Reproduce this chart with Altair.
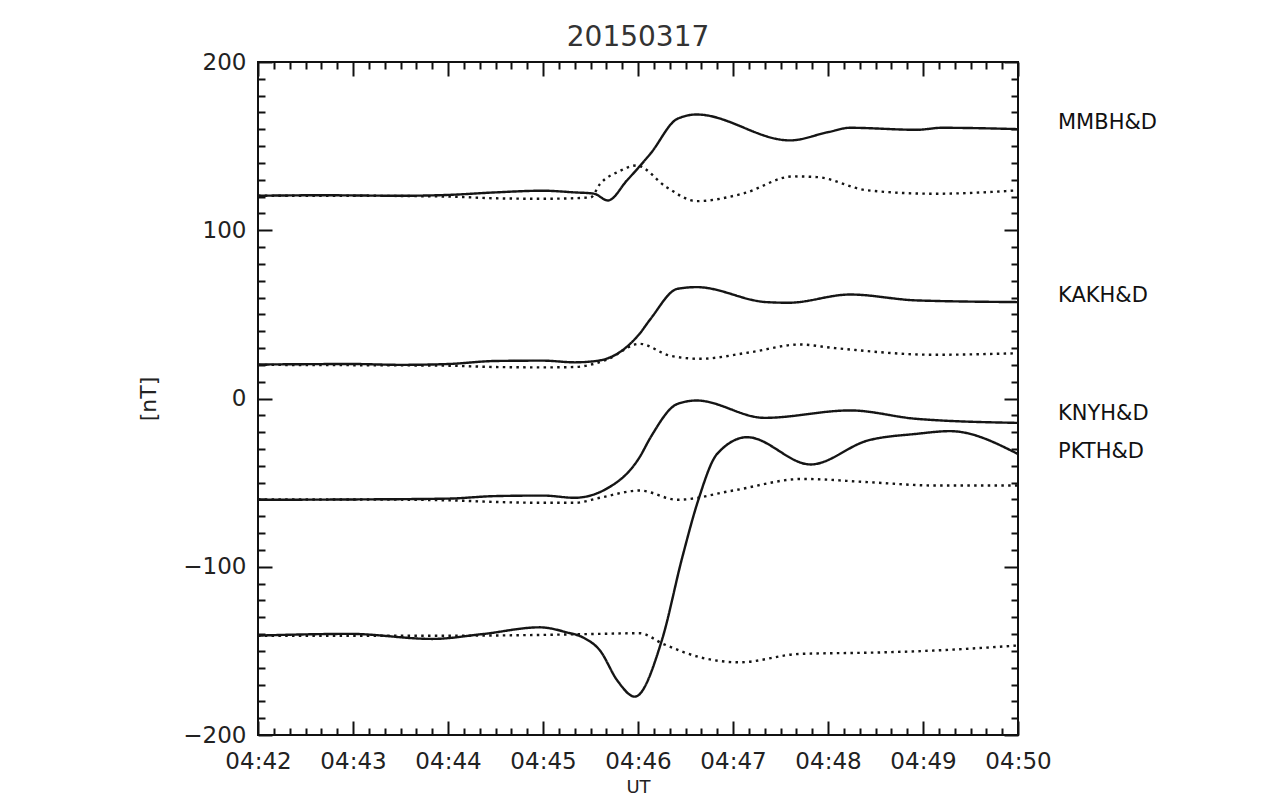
import altair as alt
import pandas as pd

TITLE = "20150317"
STATIONS = ["MMBH", "KAKH", "KNYH", "PKTH"]
LABELS = ["MMBH&D", "KAKH&D", "KNYH&D", "PKTH&D"]
LABEL_Y = [164.0, 61.0, -9.0, -32.0]

MMBH_H_t = ["04:42:00", "04:42:40", "04:43:30", "04:44:00", "04:44:30", "04:45:00", "04:45:20", "04:45:32",
            "04:45:41", "04:45:53", "04:46:08", "04:46:25", "04:46:37", "04:47:36", "04:48:00",
            "04:48:14", "04:48:56", "04:49:12", "04:50:00"]
MMBH_H_v = [120.5, 120.8, 120.5, 121.0, 122.5, 123.5, 122.5, 121.8, 117.7, 129.6, 145.7, 166.3, 168.8,
            153.4, 158.3, 160.9, 159.7, 160.9, 160.1]
MMBH_D_t = ["04:42:00", "04:43:00", "04:44:00", "04:44:30", "04:45:00", "04:45:30", "04:45:36", "04:45:48",
            "04:45:59", "04:46:18", "04:46:37", "04:47:06", "04:47:38", "04:47:53", "04:48:25", "04:49:07",
            "04:50:00"]
MMBH_D_v = [120.5, 120.5, 120.0, 119.0, 118.7, 119.5, 127.5, 135.0, 138.5, 125.6, 117.3, 121.7, 132.0, 131.6,
            123.7, 121.7, 123.7]

KAKH_H_t = ["04:42:00", "04:43:00", "04:43:30", "04:44:00", "04:44:30", "04:45:00", "04:45:20", "04:45:35",
            "04:45:40", "04:46:01", "04:46:08", "04:46:25", "04:46:37", "04:47:21", "04:47:35", "04:48:14",
            "04:48:56", "04:50:00"]
KAKH_H_v = [20.2, 20.5, 20.0, 20.5, 22.3, 22.5, 21.5, 22.5, 23.6, 38.5, 47.4, 65.2, 66.2, 57.3, 56.9, 61.8,
            58.3, 57.3]
KAKH_D_t = ["04:42:00", "04:43:00", "04:44:00", "04:44:30", "04:45:00", "04:45:20", "04:45:40", "04:46:01",
            "04:46:20", "04:46:39", "04:47:11", "04:47:42", "04:48:03", "04:49:07", "04:50:00"]
KAKH_D_v = [20.0, 19.8, 19.5, 18.7, 18.5, 18.7, 23.0, 32.5, 25.5, 23.6, 27.5, 32.1, 30.1, 26.0, 26.9]

KNYH_H_t = ["04:42:00", "04:43:00", "04:44:00", "04:44:30", "04:45:00", "04:45:20", "04:45:40", "04:46:01",
            "04:46:08", "04:46:25", "04:46:37", "04:47:20", "04:48:14", "04:48:56", "04:50:00"]
KNYH_H_v = [-60.2, -60.0, -59.5, -58.0, -57.7, -59.0, -53.7, -34.9, -23.0, -3.2, -1.2, -11.5, -7.1, -12.1,
            -14.5]
KNYH_D_t = ["04:42:00", "04:43:00", "04:44:00", "04:44:30", "04:45:00", "04:45:20", "04:45:36", "04:46:01",
            "04:46:25", "04:47:00", "04:47:44", "04:48:25", "04:49:07", "04:50:00"]
KNYH_D_v = [-60.0, -60.0, -60.5, -61.5, -62.0, -62.0, -59.0, -54.7, -60.2, -54.7, -47.8, -49.7, -51.7, -51.7]

PKTH_H_t = ["04:42:00", "04:42:58", "04:43:50", "04:44:22", "04:44:58", "04:45:15", "04:45:25", "04:45:36",
            "04:45:47", "04:45:58", "04:46:15", "04:46:28", "04:46:38", "04:46:50", "04:47:09",
            "04:47:49", "04:48:25", "04:48:56", "04:49:17", "04:50:00"]
PKTH_H_v = [-140.9, -139.9, -142.9, -140.0, -136.0, -139.0, -141.9, -149.8, -167.7, -177.2, -143.9, -94.3,
            -60.6, -32.9, -23.0, -39.2, -25.0, -21.0, -19.4, -33.0]
PKTH_D_t = ["04:42:00", "04:43:00", "04:44:00", "04:45:00", "04:45:30", "04:46:01", "04:46:16", "04:46:40",
            "04:47:04", "04:47:42", "04:48:30", "04:49:07", "04:50:00"]
PKTH_D_v = [-141.0, -141.0, -141.0, -140.5, -140.0, -139.5, -145.9, -154.0, -156.8, -151.8, -151.0, -149.8,
            -146.8]

SERIES = {
    "MMBH": (MMBH_H_t, MMBH_H_v, MMBH_D_t, MMBH_D_v),
    "KAKH": (KAKH_H_t, KAKH_H_v, KAKH_D_t, KAKH_D_v),
    "KNYH": (KNYH_H_t, KNYH_H_v, KNYH_D_t, KNYH_D_v),
    "PKTH": (PKTH_H_t, PKTH_H_v, PKTH_D_t, PKTH_D_v),
}


def to_min(s):
    h, m, sec = map(int, s.split(":"))
    return h * 60 + m + sec / 60.0 - (4 * 60 + 42)


rows = []
for st, (ht, hv, dt, dv) in SERIES.items():
    for t, v in zip(ht, hv):
        rows.append({"station": st, "kind": "H", "t": to_min(t), "v": v})
    for t, v in zip(dt, dv):
        rows.append({"station": st, "kind": "D", "t": to_min(t), "v": v})
df = pd.DataFrame(rows)

t_end = to_min(MMBH_H_t[-1])
lab_df = pd.DataFrame({"label": LABELS, "t": [t_end] * 4, "v": LABEL_Y})

W, H = 760, 673
FONT = "DejaVu Sans"
x_scale = alt.Scale(domain=[0, 8], nice=False, zero=False)
y_scale = alt.Scale(domain=[-200, 200], nice=False, zero=False)
dash_scale = alt.Scale(domain=["H", "D"], range=[[1, 0], [2.5, 4.3]])

major_x = list(range(0, 9))
minor_x = [k / 6 for k in range(49) if k % 6]
major_y = [-200, -100, 0, 100, 200]
minor_y = [v for v in range(-200, 201, 10) if v % 100]


def tick_axis(orient, offset, values, size):
    return alt.Axis(orient=orient, offset=offset, values=values, tickSize=size, tickWidth=2,
                    tickColor="#111", ticks=True, labels=False, domain=False, grid=False, title=None)


x_label_axis = alt.Axis(orient="bottom", values=major_x, ticks=False, tickSize=0, domain=False, grid=False,
                        labelExpr="'04:' + format(42 + datum.value, '02d')", labelPadding=15,
                        labelFontSize=23, labelFont=FONT, labelColor="#222", labelFlush=False,
                        labelOverlap=False, title="UT", titleFont=FONT, titleFontSize=18,
                        titleFontWeight="normal", titleColor="#222", titleX=W / 2, titleY=52,
                        titleAlign="center", titleBaseline="middle")
y_label_axis = alt.Axis(orient="left", values=major_y, ticks=False, tickSize=0, domain=False, grid=False,
                        labelPadding=12, labelFontSize=23, labelFont=FONT, labelColor="#222",
                        labelFlush=False, labelOverlap=False, title="[nT]", titleFont=FONT,
                        titleFontSize=22, titleFontWeight="normal", titleColor="#222", titleX=-110,
                        titleY=H / 2, titleAngle=270, titleAlign="center", titleBaseline="middle")

x_axes = [
    x_label_axis,
    tick_axis("top", -H, major_x, 14),      # bottom edge, inward
    tick_axis("bottom", -H, major_x, 14),   # top edge, inward
    tick_axis("top", -H, minor_x, 7),
    tick_axis("bottom", -H, minor_x, 7),
]
y_axes = [
    y_label_axis,
    tick_axis("right", -W, major_y, 14),    # left edge, inward
    tick_axis("left", -W, major_y, 14),     # right edge, inward
    tick_axis("right", -W, minor_y, 7),
    tick_axis("left", -W, minor_y, 7),
]

layers = []
for i, st in enumerate(STATIONS):
    layers.append(
        alt.Chart(df[df.station == st]).mark_line(
            color="#151515", strokeWidth=2.4, interpolate="monotone"
        ).encode(
            x=alt.X("t:Q", scale=x_scale, axis=x_axes[i]),
            y=alt.Y("v:Q", scale=y_scale, axis=y_axes[i]),
            strokeDash=alt.StrokeDash("kind:N", scale=dash_scale, legend=None),
        )
    )

layers.append(
    alt.Chart(lab_df).mark_text(align="left", baseline="middle", dx=40, fontSize=21, font=FONT,
                                color="#111").encode(
        x=alt.X("t:Q", scale=x_scale, axis=x_axes[4]),
        y=alt.Y("v:Q", scale=y_scale, axis=y_axes[4]),
        text="label:N",
    )
)

chart = alt.layer(*layers).resolve_axis(x="independent", y="independent").properties(
    width=W, height=H,
    autosize=alt.AutoSizeParams(type="none"),
    padding={"left": 258, "top": 62, "right": 266, "bottom": 65},
    background="white",
    title=alt.TitleParams(text=TITLE, fontSize=28, font=FONT, fontWeight="normal", color="#333",
                          anchor="middle", frame="group", offset=-23, baseline="alphabetic"),
).configure_view(stroke="#111", strokeWidth=2)

chart.save("out.html", embed_options={"renderer": "svg", "actions": False})
